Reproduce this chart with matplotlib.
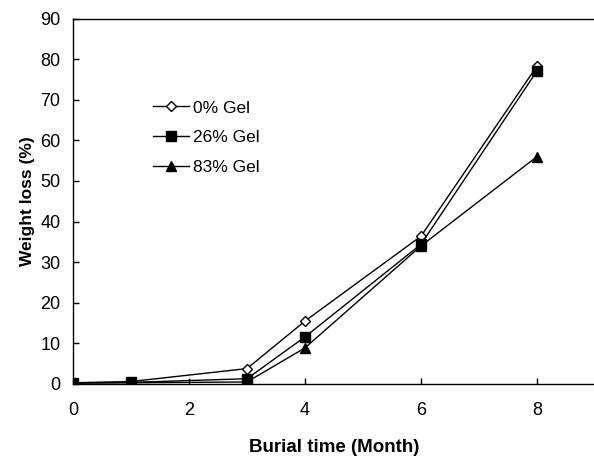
import matplotlib
matplotlib.use("Agg")
import matplotlib.pyplot as plt

plt.rcParams['font.family'] = ['Liberation Sans', 'DejaVu Sans']

months = [0, 1, 3, 4, 6, 8]
gel0 = [0.3, 0.6, 3.8, 15.5, 36.4, 78.3]
gel26 = [0.3, 0.4, 1.3, 11.6, 34.4, 77.1]
gel83 = [0.2, 0.3, 0.5, 8.9, 34.0, 56.0]
labels = ["0% Gel", "26% Gel", "83% Gel"]

fig = plt.figure(figsize=(5.94, 4.57), dpi=100)
ax = fig.add_axes([73/594, 1 - 384/457, (595 - 73)/594, (384 - 18.5)/457])

l0, = ax.plot(months, gel0, color='black', lw=1, marker='D', markersize=5.5,
              markerfacecolor='white', markeredgecolor='black', markeredgewidth=1, zorder=1)
l26, = ax.plot(months, gel26, color='black', lw=1, marker='s', markersize=6.5,
               markerfacecolor='black', markeredgecolor='black', zorder=3)
l83, = ax.plot(months, gel83, color='black', lw=1, marker='^', markersize=6.5,
               markerfacecolor='black', markeredgecolor='black', zorder=2)

ax.set_xlim(0, 9)
ax.set_ylim(0, 90)
ax.set_xticks([0, 2, 4, 6, 8])
ax.set_yticks(range(0, 91, 10))
ax.tick_params(direction='in', length=4, width=1, labelsize=13)
ax.tick_params(axis='y', pad=9)
ax.tick_params(axis='x', pad=13)
for s in ax.spines.values():
    s.set_linewidth(1)
    s.set_color('black')

ax.set_xlabel("Burial time (Month)", fontsize=13.5, fontweight='bold', labelpad=14)
ax.set_ylabel("Weight loss (%)", fontsize=12.5, fontweight='bold', labelpad=4)

leg = ax.legend([l0, l26, l83], labels, loc='upper left', bbox_to_anchor=(0.153, 0.776),
                frameon=False, fontsize=12.5, handlelength=2.1, handletextpad=0.2,
                labelspacing=0.85, borderaxespad=0, borderpad=0)

fig.savefig("out.png", dpi=100)
